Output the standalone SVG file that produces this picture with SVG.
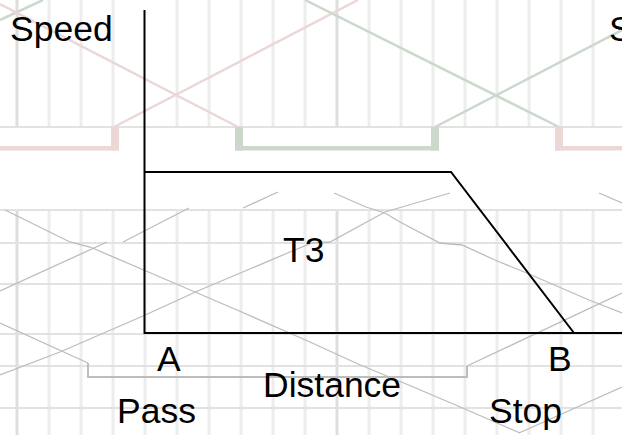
<svg xmlns="http://www.w3.org/2000/svg" width="622" height="435" viewBox="0 0 622 435">
<style>
.vg{stroke:#ededed;stroke-width:3;fill:none}
.vgd{stroke:#dedede;stroke-width:3;fill:none}
.hg{stroke:#e2e2e2;stroke-width:2;fill:none}
.red{stroke:#ecd6d6;stroke-width:2.5;fill:none}
.grn{stroke:#cdd8cd;stroke-width:2.5;fill:none}
.redf{fill:#ecd6d6}
.grnf{fill:#cdd8cd}
.dg{stroke:#bcbcbc;stroke-width:1.3;fill:none}
.stp{stroke:#bdbdbd;stroke-width:2;fill:none}
.blk{stroke:#000;stroke-width:2;fill:none}
.t{font-family:"Liberation Sans",Arial,sans-serif;font-size:35.5px;fill:#000}
</style>
<rect width="622" height="435" fill="#fff"/>
<g id="background-upper">
<path class="vgd" d="M17,0V127M337,0V127"/>
<path class="vg" d="M49,0V127M81,0V127M113,0V127M177,0V127M209,0V127M241,0V127M273,0V127M305,0V127M369,0V127M401,0V127M433,0V127M465,0V127M497,0V127M529,0V127M561,0V127M593,0V127"/>
<path class="hg" d="M0,127H622"/>
<path class="grn" d="M0,20L43,0"/>
<path class="red" d="M0,4L238,127"/>
<path class="red" d="M114,127L358,0"/>
<path class="grn" d="M305,0L559,127"/>
<path class="grn" d="M435,127L622,30"/>
<rect class="redf" x="0" y="146" width="119" height="4.5"/>
<rect class="redf" x="111" y="127" width="8" height="23.5"/>
<rect class="grnf" x="235" y="127" width="8" height="23.5"/>
<rect class="grnf" x="235" y="146" width="204" height="4.5"/>
<rect class="grnf" x="431" y="127" width="8" height="23.5"/>
<rect class="redf" x="555" y="127" width="8" height="23.5"/>
<rect class="redf" x="555" y="146" width="67" height="4.5"/>
</g>
<g id="background-lower">
<path class="vgd" d="M17,210V435M337,210V435"/>
<path class="vg" d="M49,210V435M81,210V435M113,210V435M145,210V435M177,210V435M209,210V435M241,210V435M273,210V435M305,210V435M369,210V435M401,210V435M433,210V435M465,210V435M497,210V435M529,210V435M561,210V435M593,210V435"/>
<path class="hg" d="M0,210H622M0,243H622M0,284H622M0,334H622M0,366H622M0,408H622"/>
<path class="dg" d="M5,210L70,242L90,247L160,277L237,310L310,342L358,364L411,386L458,406L520,433"/>
<path class="dg" d="M0,375L60,352L143,316L200,290L290,252L312,243L330,242L385,212L450,193"/>
<path class="dg" d="M334,193L366,207L385,213L400,222L440,243L462,245L495,260L529,274L589,300L622,313"/>
<path class="dg" d="M0,291L107,242"/>
<path class="dg" d="M123,242L189,208"/>
<path class="dg" d="M243,208L278,192"/>
<path class="dg" d="M599,193L622,203"/>
<path class="dg" d="M519,433L622,387"/>
<path class="dg" d="M0,323L88,363"/>
<path class="stp" d="M88,363V377H467V366"/>
<path class="dg" d="M467,366L622,293"/>
</g>
<g id="chart">
<path class="blk" d="M144.5,10V334"/>
<path class="blk" d="M144,333H622"/>
<path class="blk" d="M144,172H451L574,333"/>
</g>
<g id="labels">
<text class="t" x="10" y="41">Speed</text>
<text class="t" x="609" y="41">S</text>
<text class="t" x="283" y="262">T3</text>
<text class="t" x="157" y="371">A</text>
<text class="t" x="548" y="371">B</text>
<text class="t" x="263" y="397">Distance</text>
<text class="t" x="117" y="423">Pass</text>
<text class="t" x="489" y="423">Stop</text>
</g>
</svg>
